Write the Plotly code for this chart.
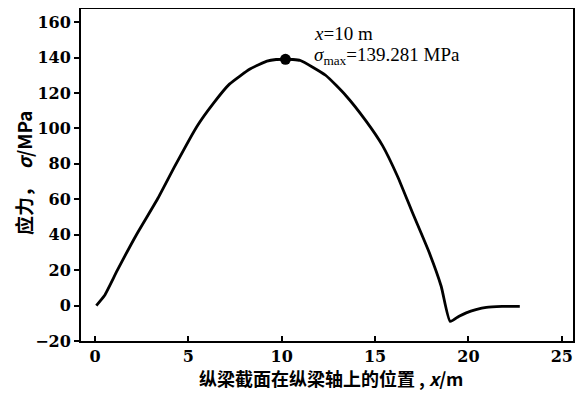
import plotly.graph_objects as go

# stress along the stringer
x_pos = [0.07, 0.5, 1.2, 2.22, 3.34, 4.29, 5.45, 6.35, 7.2, 8.3, 9.21, 9.7,
         10.2, 10.6, 11.0, 12.35, 13.43, 14.5, 15.4, 16.2, 17.0, 17.9, 18.54,
         19.02, 19.5, 19.88, 20.4, 20.96, 21.8, 22.75]
stress = [0, 5.5, 20, 40, 60, 79, 101, 114.3, 125, 133.5, 138.0, 138.9,
          139.0, 138.9, 138.3, 130, 118.6, 104.4, 90.3, 73, 52.5, 29.9, 10.9,
          -8.9, -6.0, -4.1, -2.3, -1.0, -0.5, -0.4]

peak_x = [10.2]
peak_y = [139.0]

x_ticks = [0, 5, 10, 15, 20, 25]
y_ticks = [-20, 0, 20, 40, 60, 80, 100, 120, 140, 160]

serif = "Liberation Serif"
tick_serif = "DejaVu Serif"
cjk = "Noto Sans CJK SC"

fig = go.Figure()
fig.add_trace(go.Scatter(x=x_pos, y=stress, mode="lines",
                         line=dict(color="black", width=2.8, shape="spline", smoothing=0.5),
                         showlegend=False, hoverinfo="skip"))
fig.add_trace(go.Scatter(x=peak_x, y=peak_y, mode="markers",
                         marker=dict(color="black", size=11), showlegend=False))

fig.add_annotation(x=11.63, y=153.3, xref="x", yref="y", xanchor="left", yanchor="middle",
                   text="<i>x</i>=10 m", showarrow=False,
                   font=dict(family=serif, size=19, color="black"))
fig.add_annotation(x=11.63, y=140.8, xref="x", yref="y", xanchor="left", yanchor="middle",
                   text="<i>σ</i><sub>max</sub>=139.281 MPa", showarrow=False,
                   font=dict(family=serif, size=19, color="black"))

# axis titles
fig.add_annotation(x=0.508, y=-0.112, xref="paper", yref="paper", xanchor="center",
                   yanchor="middle", showarrow=False,
                   text="纵梁截面在纵梁轴上的位置 , <i>x</i>/m",
                   font=dict(family=cjk, size=18, color="black", weight="bold"))
fig.add_annotation(x=-0.118, y=0.509, xref="paper", yref="paper", xanchor="center",
                   yanchor="middle", showarrow=False, textangle=-90,
                   text="应力，  <i>σ</i>/MPa",
                   font=dict(family=cjk, size=19, color="black", weight="bold"))

fig.update_layout(
    width=586, height=397,
    margin=dict(l=73, r=21, t=1, b=64),
    paper_bgcolor="white", plot_bgcolor="white",
    xaxis=dict(range=[-0.75, 25.6], tickvals=x_ticks, ticks="inside", ticklen=5,
               tickwidth=1.5, tickcolor="black", showgrid=False, zeroline=False,
               showline=True, linecolor="black", linewidth=2, mirror=True,
               automargin=False,
               tickfont=dict(family=tick_serif, size=16, color="black", weight="bold")),
    yaxis=dict(range=[-20, 167.4], tickvals=y_ticks, ticks="outside", ticklen=5,
               tickwidth=1.5, tickcolor="black", showgrid=False, zeroline=False,
               showline=True, linecolor="black", linewidth=2, mirror=True,
               automargin=False,
               tickfont=dict(family=tick_serif, size=16, color="black", weight="bold")),
)

fig.write_html("out.html")
